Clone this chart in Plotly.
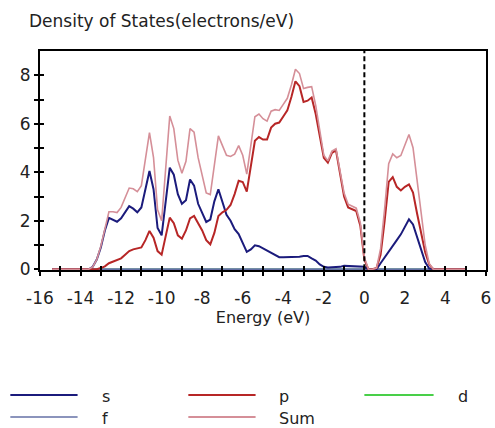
import numpy as np
import plotly.graph_objects as go

# Energy grid (eV), 0.2 eV sampling
energy = np.round(np.arange(-15.4, 5.0001, 0.2), 1)

# Partial densities of states (electrons/eV)
dos_s = [
    0, 0, 0, 0, 0, 0, 0, 0, 0, 0,
    0.1, 0.4, 0.9, 1.6, 2.12, 2.05, 1.96, 2.1, 2.35, 2.6,
    2.5, 2.35, 2.55, 3.3, 4.05, 3.3, 1.7, 1.4, 2.8, 4.19,
    3.9, 3.1, 2.7, 2.85, 3.7, 3.45, 2.7, 2.3, 1.95, 2.05,
    2.8, 3.3, 2.75, 2.25, 2.0, 1.65, 1.45, 1.1, 0.72, 0.82,
    0.99, 0.95, 0.86, 0.76, 0.68, 0.58, 0.5, 0.5, 0.5, 0.5,
    0.5, 0.52, 0.55, 0.55, 0.45, 0.36, 0.2, 0.1, 0.07, 0.07,
    0.07, 0.1, 0.14, 0.13, 0.12, 0.12, 0.12, 0.1, 0, 0,
    0, 0.25, 0.5, 0.75, 0.96, 1.2, 1.44, 1.75, 2.06, 1.85,
    1.3, 0.8, 0.3, 0.03,
    0, 0, 0, 0, 0, 0, 0, 0, 0,
]
dos_p = [
    0, 0, 0, 0, 0, 0, 0, 0, 0, 0,
    0, 0, 0.05, 0.12, 0.25, 0.32, 0.38, 0.45, 0.6, 0.75,
    0.82, 0.85, 0.9, 1.2, 1.58, 1.3, 0.75, 0.6, 1.3, 2.13,
    1.9, 1.4, 1.26, 1.6, 2.1, 2.2, 1.9, 1.6, 1.2, 1.03,
    1.5, 2.2, 2.35, 2.45, 2.65, 3.1, 3.65, 3.6, 3.2, 4.3,
    5.3, 5.45, 5.35, 5.35, 5.84, 6.0, 6.05, 6.3, 6.55, 7.1,
    7.75, 7.55, 6.9, 6.95, 7.08, 6.4, 5.5, 4.6, 4.4, 4.8,
    4.9, 3.9, 3.0, 2.55, 2.47, 2.4, 1.8, 0.4, 0, 0,
    0.05, 0.6, 2.0, 3.6, 3.8, 3.4, 3.25, 3.4, 3.5, 3.16,
    2.3, 1.5, 0.7, 0.2,
    0, 0, 0, 0, 0, 0, 0, 0, 0,
]
dos_d = [0.0] * len(energy)
dos_f = [0.0] * len(energy)
dos_sum = (np.array(dos_s) + np.array(dos_p) + np.array(dos_d) + np.array(dos_f)).tolist()

E_FERMI = 0.0

x_ticks = list(range(-16, 7))
x_labels = [str(v) if v % 2 == 0 else "" for v in x_ticks]
y_ticks = list(range(0, 9))
y_labels = [str(v) if v % 2 == 0 else "" for v in y_ticks]

series = [
    ("d", dos_d, "#49cf49", 1.4),
    ("f", dos_f, "#6470a6", 2.0),
    ("s", dos_s, "#1b1b7c", 2.0),
    ("p", dos_p, "#b72626", 2.0),
    ("Sum", dos_sum, "#d58f98", 1.6),
]
colors = {name: c for name, _, c, _ in series}
widths = {name: w for name, _, _, w in series}

FONT = "DejaVu Sans"
W, H = 495, 428
L, R, T, B = 40, 4, 51, 158
Y_RANGE = [-0.03, 9]

fig = go.Figure()
for name, vals, color, width in series:
    fig.add_trace(go.Scatter(
        x=energy, y=vals, mode="lines", name=name,
        line=dict(color=color, width=width),
        showlegend=False, hoverinfo="skip",
    ))

# empty trace so the inner-tick overlay axes get drawn
fig.add_trace(go.Scatter(x=[None], y=[None], xaxis="x2", yaxis="y2",
                         showlegend=False, hoverinfo="skip"))

# Fermi level marker
fig.add_shape(type="line", xref="x", yref="y", x0=E_FERMI, x1=E_FERMI, y0=0, y1=9,
              line=dict(color="black", width=2, dash="5px,3px"))

axis_common = dict(showgrid=False, zeroline=False, tickcolor="black",
                   tickfont=dict(family=FONT, size=17, color="#222"))

fig.update_layout(
    width=W, height=H,
    margin=dict(l=L, r=R, t=T, b=B),
    paper_bgcolor="white", plot_bgcolor="white",
    font=dict(family=FONT, color="#222"),
    title=dict(text="Density of States(electrons/eV)", x=29 / W, xanchor="left",
               xref="container", y=1 - 21 / H, yref="container", yanchor="middle",
               font=dict(family=FONT, size=17, color="#222")),
    xaxis=dict(range=[-16, 6], tickmode="array", tickvals=x_ticks, ticktext=x_labels,
               ticks="outside", ticklen=4, tickwidth=1.5, ticklabelstandoff=8,
               showline=True, linecolor="black", linewidth=2, mirror=True,
               layer="below traces",
               title=dict(text="Energy (eV)", font=dict(family=FONT, size=16, color="#222"),
                          standoff=2),
               **axis_common),
    yaxis=dict(range=Y_RANGE, tickmode="array", tickvals=y_ticks, ticktext=y_labels,
               ticks="outside", ticklen=4, tickwidth=1.5,
               showline=True, linecolor="black", linewidth=2, mirror=True,
               **axis_common),
    xaxis2=dict(range=[-16, 6], overlaying="x", anchor="y2", side="bottom",
                tickmode="array", tickvals=x_ticks, ticks="inside", ticklen=4,
                tickwidth=1.5, tickcolor="black", showticklabels=False,
                showline=False, showgrid=False, zeroline=False),
    yaxis2=dict(range=Y_RANGE, overlaying="y", anchor="x2", side="left",
                tickmode="array", tickvals=y_ticks, ticks="inside", ticklen=4,
                tickwidth=1.5, tickcolor="black", showticklabels=False,
                showline=False, showgrid=False, zeroline=False),
)

# Legend drawn below the chart: three columns, two rows
pw, ph = W - L - R, H - T - B


def px_x(px):
    return (px - L) / pw


def px_y(py):
    return (H - B - py) / ph


legend_items = [
    ("s", 10, 78, 101, 396),
    ("p", 190, 258, 280, 396),
    ("d", 368, 438, 461, 396),
    ("f", 10, 78, 101, 418),
    ("Sum", 190, 258, 280, 418),
]
for name, x0, x1, tx, ty in legend_items:
    fig.add_shape(type="line", xref="paper", yref="paper",
                  x0=px_x(x0), x1=px_x(x1), y0=px_y(ty - 1), y1=px_y(ty - 1),
                  line=dict(color=colors[name], width=2.0 if name != "f" else 1.6))
    fig.add_annotation(text=name, xref="paper", yref="paper", x=px_x(tx), y=px_y(ty),
                       xanchor="left", yanchor="middle", showarrow=False,
                       font=dict(family=FONT, size=16, color="#222"))

fig.write_html("out.html")
